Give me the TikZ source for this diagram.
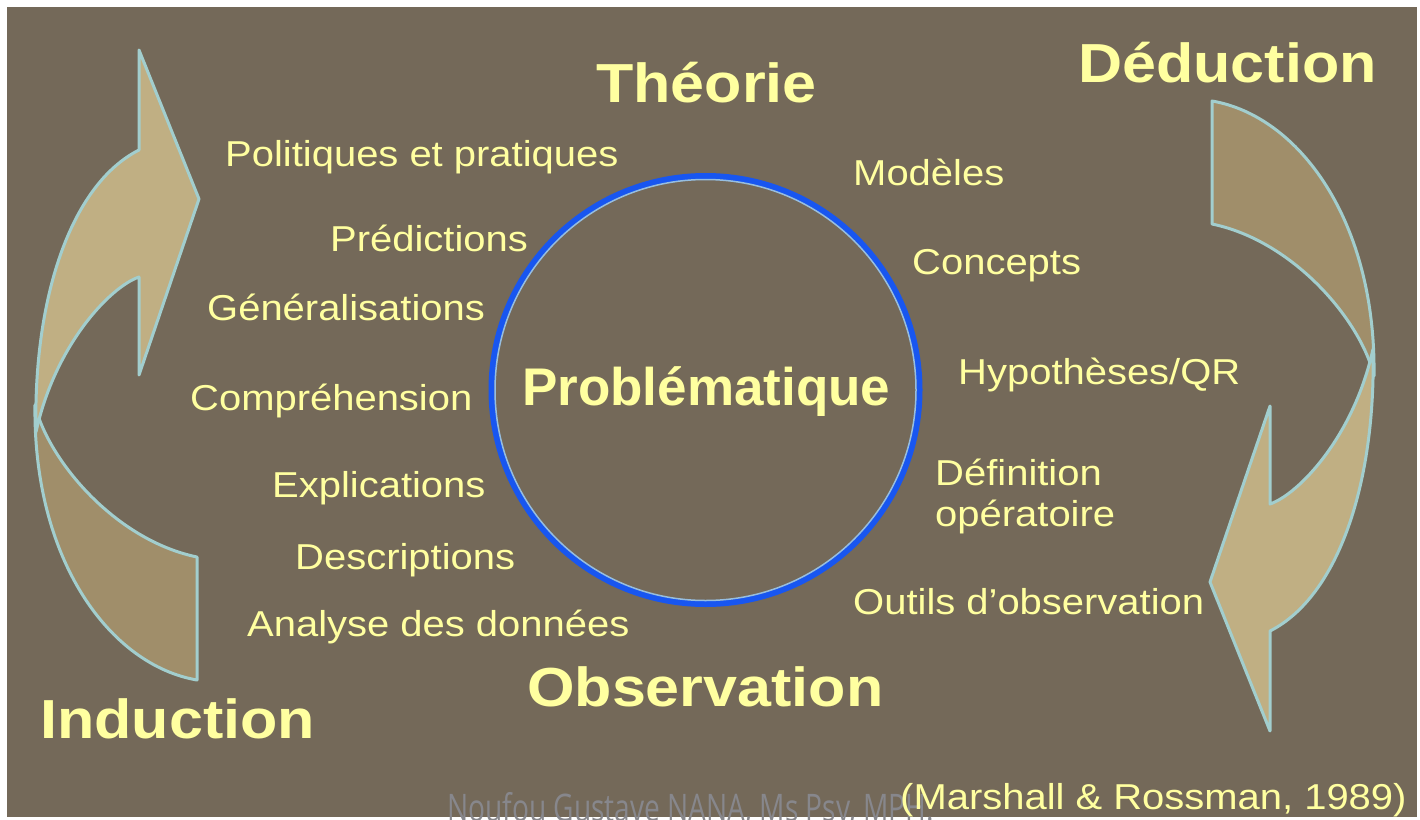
\documentclass[tikz,border=0pt]{standalone}
\usepackage{fontspec}
\setmainfont{Liberation Sans}
\newfontfamily\wmfont{Open Sans}
\definecolor{slidebg}{RGB}{116,105,89}
\definecolor{lightband}{RGB}{192,175,131}
\definecolor{darkband}{RGB}{160,142,106}
\definecolor{rimcyan}{RGB}{162,206,206}
\definecolor{txtyellow}{RGB}{255,255,160}
\definecolor{ringblue}{RGB}{24,86,240}
\definecolor{ringlight}{RGB}{150,190,225}
\definecolor{wmgray}{RGB}{135,135,140}
\tikzset{
  band/.style={draw=rimcyan, line width=3pt, line join=round},
  lbl/.style={text=txtyellow, inner sep=0pt, anchor=base west, xscale=1.11, transform shape, font=\fontsize{36}{41}\selectfont},
  ttl/.style={lbl, font=\fontsize{55}{60}\selectfont\bfseries},
}
% one curved arrow: back band, then front band with its head
\def\bandarrow{%
  \draw[band, fill=darkband] (197,557) -- (197,680) .. controls (110,665) and (33,560) .. (35,405) .. controls (48,460) and (115,540) .. (197,557) -- cycle;
  \draw[band, fill=lightband] (36,432) .. controls (33,300) and (70,185) .. (139,150) -- (139,50) -- (199,199) -- (139,375) -- (139,277) .. controls (110,287) and (55,345) .. (36,432) -- cycle;
}

\begin{document}
\begin{tikzpicture}[x=1pt, y=-1pt]
	%%%%% START %%%%%
	\useasboundingbox (0,0) rectangle (1420,819);
	\fill[slidebg] (7,7) rectangle (1417,817);
	
	\bandarrow
	\begin{scope}[rotate around={180:(704.5,390.5)}]
		\bandarrow
	\end{scope}
	
	\draw[ringblue, line width=6pt] (705.5,390) circle (214);
	\draw[ringlight, line width=1.5pt] (705.5,390) circle (210.5);
	
	\node[ttl] (theorie) at (596,102) {Théorie};
	\node[ttl] (deduction) at (1078,82) {Déduction};
	\node[ttl] (observation) at (527,706) {Observation};
	\node[ttl] (induction) at (40,738) {Induction};
	\node[ttl, xscale=1/1.11, font=\fontsize{53}{58}\selectfont\bfseries] (probleme) at (522,405) {Problématique};
	
	\node[lbl] (politiques) at (225,166) {Politiques et pratiques};
	\node[lbl] (predictions) at (330,251) {Prédictions};
	\node[lbl] (generalisations) at (207,320) {Généralisations};
	\node[lbl] (comprehension) at (190,410) {Compréhension};
	\node[lbl] (explications) at (272,497) {Explications};
	\node[lbl] (descriptions) at (295,569) {Descriptions};
	\node[lbl] (analyse) at (247,636) {Analyse des données};
	
	\node[lbl] (modeles) at (853,185) {Modèles};
	\node[lbl] (concepts) at (912,274) {Concepts};
	\node[lbl] (hypotheses) at (958,384) {Hypothèses/QR};
	\node[lbl, align=left] (definition) at (935,526) {Définition\\opératoire};
	\node[lbl] (outils) at (853,614) {Outils d’observation};
	
	\node[text=wmgray, inner sep=0pt, anchor=base west, xscale=0.74, transform shape, font=\wmfont\fontsize{38}{40}\selectfont] (auteur) at (447,821) {Noufou Gustave NANA, Ms Psy, MPH.};
	\node[lbl] (source) at (900,809) {(Marshall \& Rossman, 1989)};
	%%%%% END %%%%%
\end{tikzpicture}
\end{document}
